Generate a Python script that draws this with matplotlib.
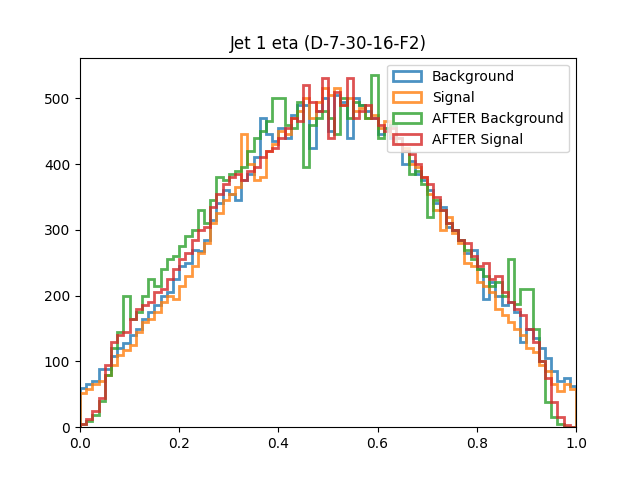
import numpy as np
import matplotlib
matplotlib.use("Agg")
import matplotlib.pyplot as plt

# 80 bins de 0 a 1
edges = np.linspace(0, 1, 81)

background = [60, 66, 70, 88, 88, 108, 120, 128, 140, 150,
              165, 175, 185, 200, 205, 225, 245, 250, 270, 268,
              285, 315, 340, 360, 355, 345, 375, 385, 410, 470,
              445, 435, 455, 440, 475, 490, 490, 425, 480, 500,
              450, 505, 495, 440, 500, 490, 480, 470, 445, 455,
              440, 430, 400, 405, 385, 375, 360, 340, 335, 305,
              300, 285, 265, 270, 240, 195, 220, 200, 185, 190,
              175, 130, 150, 135, 120, 105, 85, 70, 75, 62]

signal = [52, 58, 65, 70, 80, 95, 110, 118, 125, 145,
          160, 165, 175, 190, 200, 195, 215, 230, 245, 265,
          280, 310, 325, 345, 355, 365, 445, 400, 375, 380,
          420, 430, 450, 445, 470, 480, 500, 470, 495, 515,
          505, 515, 490, 500, 480, 485, 470, 475, 455, 465,
          445, 430, 425, 400, 395, 380, 355, 330, 300, 320,
          295, 280, 250, 245, 220, 215, 205, 180, 170, 160,
          150, 140, 120, 115, 95, 85, 65, 55, 65, 58]

after_background = [5, 10, 18, 40, 80, 120, 145, 200, 165, 175,
                    200, 225, 215, 240, 255, 260, 275, 290, 300, 330,
                    310, 345, 380, 375, 385, 390, 395, 420, 440, 450,
                    465, 500, 500, 460, 455, 495, 395, 460, 470, 480,
                    470, 445, 500, 470, 495, 490, 470, 535, 440, 455,
                    460, 440, 420, 385, 390, 370, 320, 345, 330, 310,
                    300, 285, 270, 255, 240, 230, 215, 220, 200, 255,
                    188, 210, 210, 150, 100, 38, 15, 5, 0, 0]

after_signal = [5, 12, 25, 45, 95, 130, 140, 145, 165, 180,
                185, 190, 205, 210, 225, 240, 255, 265, 285, 300,
                305, 335, 355, 370, 380, 385, 375, 390, 395, 410,
                420, 425, 440, 455, 470, 465, 520, 495, 480, 530,
                440, 510, 490, 530, 470, 480, 490, 470, 460, 450,
                455, 440, 420, 415, 400, 380, 370, 350, 330, 310,
                300, 285, 280, 260, 245, 250, 225, 230, 205, 190,
                180, 170, 150, 130, 100, 75, 38, 15, 3, 0]

series = [("Background", background),
          ("Signal", signal),
          ("AFTER Background", after_background),
          ("AFTER Signal", after_signal)]

fig, ax = plt.subplots(figsize=(6.4, 4.8), dpi=100)
for nombre, vals in series:
    ax.hist(edges[:-1], bins=edges, weights=vals, histtype='step',
            linewidth=2, alpha=0.8, label=nombre)

ax.set_xlim(0, 1)
ax.set_title("Jet 1 eta (D-7-30-16-F2)")
ax.legend(loc='upper right')
fig.savefig("out.png", dpi=100)
